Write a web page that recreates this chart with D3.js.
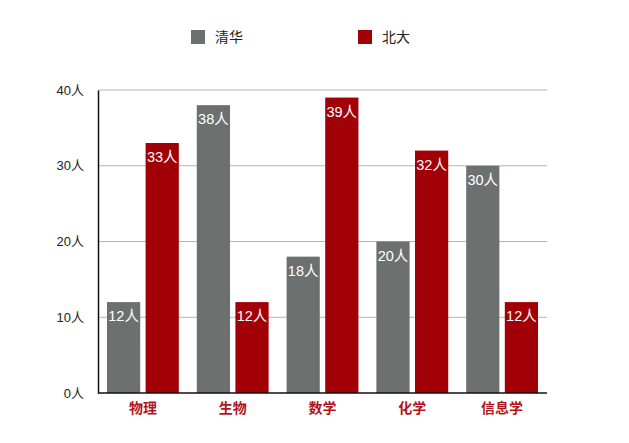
<!DOCTYPE html>
<html><head><meta charset="utf-8">
<script src="https://cdn.jsdelivr.net/npm/d3@7"></script>
<style>
html,body{margin:0;padding:0;background:#fff;}
text{font-family:"Liberation Sans","Noto Sans CJK SC",sans-serif;}
</style>
</head><body>
<svg id="chart" width="629" height="443"></svg>
<script>
const categories = ["物理","生物","数学","化学","信息学"];
const seriesNames = ["清华","北大"];
const qinghua = [12,38,18,20,30];
const beida = [33,12,39,32,12];
const yTicks = [0,10,20,30,40];
const colors = ["#6c7170","#a10006"];

const svg = d3.select("#chart");
const m = {left:98, right:82, top:90, bottom:50};
const W = 629, H = 443;
const x0 = d3.scaleBand().domain(categories).range([m.left, W-m.right]).paddingInner(0.2).paddingOuter(0.1);
const x1 = d3.scaleBand().domain(seriesNames).range([0, x0.bandwidth()]).paddingInner(0.14);
const y = d3.scaleLinear().domain([0,40]).range([H-m.bottom, m.top]);

// gridlines
svg.append("g").selectAll("line").data(yTicks.filter(d=>d>0)).join("line")
  .attr("x1", m.left).attr("x2", W-m.right)
  .attr("y1", d=>y(d)).attr("y2", d=>y(d))
  .attr("stroke","#b4b4b4").attr("stroke-width",1);

// y axis
const yAxis = d3.axisLeft(y).tickValues(yTicks).tickFormat(d=>d+"人").tickSize(0).tickPadding(14);
const ya = svg.append("g").attr("transform",`translate(${m.left},0)`).call(yAxis);
ya.select(".domain").attr("stroke","#111").attr("stroke-width",1.5);
ya.selectAll("text").attr("font-size",13).attr("fill","#222");

const data = categories.map((c,i)=>({cat:c, vals:[{s:seriesNames[0],v:qinghua[i],c:colors[0]},{s:seriesNames[1],v:beida[i],c:colors[1]}]}));

const g = svg.append("g").selectAll("g").data(data).join("g")
  .attr("transform", d=>`translate(${x0(d.cat)},0)`);
g.selectAll("rect").data(d=>d.vals).join("rect")
  .attr("x", d=>x1(d.s)).attr("width", x1.bandwidth())
  .attr("y", d=>y(d.v)).attr("height", d=>y(0)-y(d.v))
  .attr("fill", d=>d.c);
g.selectAll("text.val").data(d=>d.vals).join("text").attr("class","val")
  .attr("x", d=>x1(d.s)+x1.bandwidth()/2).attr("y", d=>y(d.v)+19)
  .attr("text-anchor","middle").attr("font-size",14.5).attr("fill","#fff")
  .text(d=>d.v+"人");

// x axis
const xAxis = d3.axisBottom(x0).tickSize(0).tickPadding(10);
const xa = svg.append("g").attr("transform",`translate(0,${y(0)})`).call(xAxis);
xa.select(".domain").attr("stroke","#111").attr("stroke-width",1.5).attr("d",`M${m.left},0H${W-m.right}`);
xa.selectAll("text").attr("font-size",14).attr("fill","#b0141c").attr("font-weight","bold")
  .attr("font-family","'Noto Sans CJK SC',sans-serif");

// legend
const legX = [191, 358];
const leg = svg.append("g").selectAll("g").data(seriesNames).join("g")
  .attr("transform",(d,i)=>`translate(${legX[i]},30)`);
leg.append("rect").attr("width",14).attr("height",14).attr("fill",(d,i)=>colors[i]);
leg.append("text").attr("x",24).attr("y",12).attr("font-size",14).attr("fill","#222")
  .attr("font-family","'Noto Sans CJK SC',sans-serif").text(d=>d);
</script>
</body></html>
